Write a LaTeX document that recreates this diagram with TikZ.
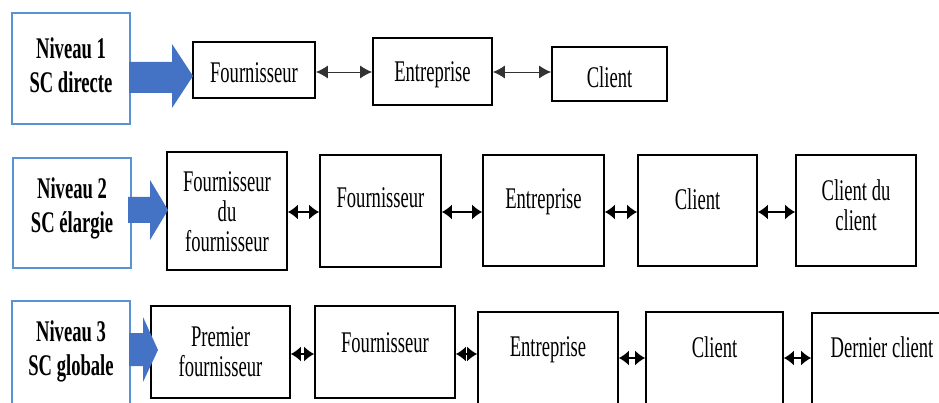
\documentclass[tikz,border=0pt]{standalone}
\usepackage{fontspec}
\setmainfont[FakeStretch=0.62]{Liberation Serif}
\usetikzlibrary{arrows.meta}
\definecolor{arrowblue}{RGB}{68,114,196}
\definecolor{lineblue}{RGB}{91,145,213}

\begin{document}
\begin{tikzpicture}[x=1pt,y=-1pt,
  box/.style={draw=black,line width=1.8pt,inner sep=0pt},
  levelbox/.style={draw=lineblue,line width=1.5pt,inner sep=0pt},
  txt/.style={font=\fontsize{30}{30}\selectfont,align=center,inner sep=0pt},
  leveltxt/.style={font=\fontsize{30}{34}\selectfont\bfseries,align=center,inner sep=0pt},
  thinlink/.style={{Latex[length=12pt,width=13pt]}-{Latex[length=12pt,width=13pt]},line width=0.9pt,draw=black!80},
  link/.style={{Latex[length=10pt,width=15pt]}-{Latex[length=10pt,width=15pt]},line width=1.4pt},
  bigarrow/.style={fill=arrowblue}]
\useasboundingbox (0,0) rectangle (939,403);
\clip (0,0) rectangle (939,403);

\coordinate (r1) at (0,72);
\coordinate (r2) at (0,212);
\coordinate (r3) at (0,354);
\coordinate (r3b) at (0,358);

%Niveau 1
\node[levelbox,minimum width=118,minimum height=111] (n1) at (71,68.5) {};
\node[leveltxt] (n1t) at (71,65) {Niveau 1\\SC directe};
\node[box,minimum width=122,minimum height=56] (f1) at (254,70) {};
\node[txt] (f1t) at (254,73) {Fournisseur};
\node[box,minimum width=119,minimum height=67] (e1) at (432.5,71.5) {};
\node[txt] (e1t) at (432.5,75) {Entreprise};
\node[box,minimum width=115,minimum height=54] (c1) at (609.5,74) {};
\node[txt] (c1t) at (609.5,77) {Client};
\fill[bigarrow] (129,62) -- (172,62) -- (172,44) -- (193,76) -- (172,108) -- (172,93) -- (129,93) -- cycle;
\draw[thinlink] (f1.east |- r1) -- (e1.west |- r1);
\draw[thinlink] (e1.east |- r1) -- (c1.west |- r1);

%Niveau 2
\node[levelbox,minimum width=118,minimum height=110] (n2) at (72,213) {};
\node[leveltxt] (n2t) at (72,208) {Niveau 2\\SC \'elargie};
\node[box,minimum width=120,minimum height=118] (ff2) at (227,211) {};
\node[txt] (ff2t) at (227,212) {Fournisseur\\du\\fournisseur};
\node[box,minimum width=121,minimum height=112] (f2) at (380.5,211) {};
\node[txt] (f2t) at (380.5,198) {Fournisseur};
\node[box,minimum width=121,minimum height=111] (e2) at (543.5,210.5) {};
\node[txt] (e2t) at (543.5,202) {Entreprise};
\node[box,minimum width=119,minimum height=111] (c2) at (697.5,210.5) {};
\node[txt] (c2t) at (697.5,199) {Client};
\node[box,minimum width=120,minimum height=111] (cc2) at (856,210.5) {};
\node[txt] (cc2t) at (856,205) {Client du\\client};
\fill[bigarrow] (128,197) -- (150,197) -- (150,180) -- (168,210) -- (150,240) -- (150,223) -- (128,223) -- cycle;
\draw[link] (ff2.east |- r2) -- (f2.west |- r2);
\draw[link] (f2.east |- r2) -- (e2.west |- r2);
\draw[link] (e2.east |- r2) -- (c2.west |- r2);
\draw[link] (c2.east |- r2) -- (cc2.west |- r2);

%Niveau 3
\node[levelbox,minimum width=118,minimum height=129] (n3) at (71,365.5) {};
\node[leveltxt] (n3t) at (71,351) {Niveau 3\\SC globale};
\node[box,minimum width=139,minimum height=92] (pf3) at (220.5,352) {};
\node[txt] (pf3t) at (220.5,352) {Premier\\fournisseur};
\node[box,minimum width=140,minimum height=92] (f3) at (385,352) {};
\node[txt] (f3t) at (385,343) {Fournisseur};
\node[box,minimum width=140,minimum height=118] (e3) at (548,371) {};
\node[txt] (e3t) at (548,350) {Entreprise};
\node[box,minimum width=137,minimum height=118] (c3) at (714.5,371) {};
\node[txt] (c3t) at (714.5,347) {Client};
\node[box,minimum width=153,minimum height=118] (d3) at (888.5,372) {};
\node[txt] (d3t) at (882,347) {Dernier client};
\fill[bigarrow] (129,333) -- (143,333) -- (143,317) -- (158,350) -- (143,382) -- (143,366) -- (129,366) -- cycle;
\draw[link] (pf3.east |- r3) -- (f3.west |- r3);
\draw[link] (f3.east |- r3) -- (e3.west |- r3);
\draw[link] (e3.east |- r3b) -- (c3.west |- r3b);
\draw[link] (c3.east |- r3b) -- (d3.west |- r3b);
\end{tikzpicture}
\end{document}
